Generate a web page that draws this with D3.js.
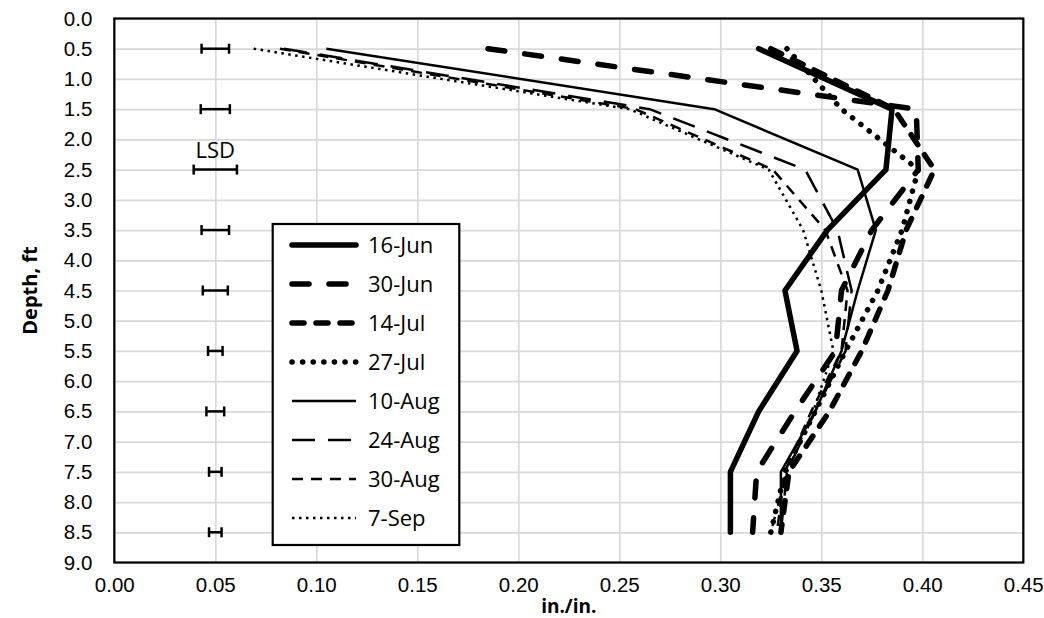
<!DOCTYPE html>
<html>
<head>
<meta charset="utf-8">
<script src="https://cdn.jsdelivr.net/npm/d3@7"></script>
<style>
  body { margin: 0; background: #fff; }
  svg { font-family: "Open Sans", "DejaVu Sans", sans-serif; }
  .tick text { fill: #000; font-size: 20.5px; }
  .grid line { stroke: #d9d9d9; stroke-width: 1.7; }
  .grid .domain { display: none; }
</style>
</head>
<body>
<svg width="1044" height="618"></svg>
<script>
// depths (ft) and soil water content (in./in.) for each sampling date
const depths = [0.5, 1.5, 2.5, 3.5, 4.5, 5.5, 6.5, 7.5, 8.5];
const dates = ["16-Jun", "30-Jun", "14-Jul", "27-Jul", "10-Aug", "24-Aug", "30-Aug", "7-Sep"];
const jun16 = [0.319, 0.385, 0.382, 0.353, 0.332, 0.338, 0.319, 0.305, 0.305];
const jun30 = [0.185, 0.397, 0.398, 0.375, 0.360, 0.357, 0.337, 0.318, 0.316];
const jul14 = [0.325, 0.386, 0.406, 0.392, 0.383, 0.370, 0.354, 0.334, 0.330];
const jul27 = [0.333, 0.360, 0.398, 0.390, 0.378, 0.362, 0.347, 0.332, 0.325];
const aug10 = [0.105, 0.297, 0.368, 0.377, 0.368, 0.360, 0.347, 0.330, 0.330];
const aug24 = [0.084, 0.265, 0.342, 0.358, 0.365, 0.362, 0.347, 0.333, 0.330];
const aug30 = [0.082, 0.258, 0.326, 0.352, 0.363, 0.360, 0.345, 0.332, 0.328];
const sep07 = [0.069, 0.255, 0.324, 0.341, 0.350, 0.356, 0.346, 0.333, 0.325];
// LSD bars: half width at each depth
const lsdCenter = 0.05;
const lsdHalf = [0.0068, 0.0072, 0.0107, 0.0068, 0.0062, 0.0036, 0.0044, 0.0031, 0.0031];

const xTicks = d3.range(0, 0.451, 0.05);
const yTicks = d3.range(0, 9.01, 0.5);

const series = [jun16, jun30, jul14, jul27, aug10, aug24, aug30, sep07];
// line styles, same order as dates
const styles = [
  { w: 5.5, dash: null, cap: "round" },
  { w: 5.5, dash: "17 20", cap: "round" },
  { w: 5.5, dash: "12 12", cap: "round" },
  { w: 5.5, dash: "0.1 10.5", cap: "round" },
  { w: 2.5, dash: null, cap: "butt" },
  { w: 2.5, dash: "23 13", cap: "butt" },
  { w: 2.5, dash: "11 8", cap: "butt" },
  { w: 2.5, dash: "2.5 4.5", cap: "butt" }
];

const svg = d3.select("svg");
const pLeft = 114.3, pRight = 1023.3, pTop = 18.5, pBottom = 562.5;

const x = d3.scaleLinear().domain([0, 0.45]).range([pLeft, pRight]);
const y = d3.scaleLinear().domain([0, 9]).range([pTop, pBottom]);

// gridlines
svg.append("g")
  .attr("class", "grid")
  .attr("transform", `translate(0,${pBottom})`)
  .call(d3.axisBottom(x).tickValues(xTicks).tickSize(-(pBottom - pTop)).tickFormat(""));
svg.append("g")
  .attr("class", "grid")
  .attr("transform", `translate(${pLeft},0)`)
  .call(d3.axisLeft(y).tickValues(yTicks).tickSize(-(pRight - pLeft)).tickFormat(""));

// axes labels
const xAxis = svg.append("g")
  .attr("transform", `translate(0,${pBottom})`)
  .call(d3.axisBottom(x).tickValues(xTicks).tickSize(0).tickPadding(15).tickFormat(d3.format(".2f")));
xAxis.select(".domain").remove();
const yAxis = svg.append("g")
  .attr("transform", `translate(${pLeft},0)`)
  .call(d3.axisLeft(y).tickValues(yTicks).tickSize(0).tickPadding(22).tickFormat(d3.format(".1f")));
yAxis.select(".domain").remove();

// LSD bars
const lsd = svg.append("g").attr("stroke", "#000").attr("stroke-width", 2.5);
depths.forEach((d, i) => {
  const x0 = x(lsdCenter - lsdHalf[i]), x1 = x(lsdCenter + lsdHalf[i]), yy = y(d);
  lsd.append("line").attr("x1", x0).attr("x2", x1).attr("y1", yy).attr("y2", yy);
  lsd.append("line").attr("x1", x0).attr("x2", x0).attr("y1", yy - 5).attr("y2", yy + 5);
  lsd.append("line").attr("x1", x1).attr("x2", x1).attr("y1", yy - 5).attr("y2", yy + 5);
});
svg.append("text")
  .attr("x", x(lsdCenter))
  .attr("y", y(2.5) - 12)
  .attr("text-anchor", "middle")
  .attr("font-size", 22)
  .text("LSD");

// series lines
const line = d3.line().x((d) => x(d[0])).y((d) => y(d[1]));
series.forEach((s, i) => {
  svg.append("path")
    .datum(s.map((v, j) => [v, depths[j]]))
    .attr("fill", "none")
    .attr("stroke", "#000")
    .attr("stroke-width", styles[i].w)
    .attr("stroke-dasharray", styles[i].dash)
    .attr("stroke-linecap", styles[i].cap)
    .attr("stroke-linejoin", "round")
    .attr("d", line);
});

// plot border
svg.append("rect")
  .attr("x", pLeft).attr("y", pTop)
  .attr("width", pRight - pLeft).attr("height", pBottom - pTop)
  .attr("fill", "none").attr("stroke", "#000").attr("stroke-width", 2.2);

// legend
const lg = svg.append("g");
lg.append("rect")
  .attr("x", 272.7).attr("y", 224)
  .attr("width", 186.6).attr("height", 321)
  .attr("fill", "#fff").attr("stroke", "#000").attr("stroke-width", 2.2);
dates.forEach((name, i) => {
  const yy = 245 + i * 39;
  lg.append("line")
    .attr("x1", 292).attr("x2", 356)
    .attr("y1", yy).attr("y2", yy)
    .attr("stroke", "#000")
    .attr("stroke-width", styles[i].w)
    .attr("stroke-dasharray", styles[i].dash)
    .attr("stroke-linecap", styles[i].cap);
  lg.append("text")
    .attr("x", 368).attr("y", yy)
    .attr("dy", "0.35em")
    .attr("font-size", 22)
    .text(name);
});

// axis titles
svg.append("text")
  .attr("x", (pLeft + pRight) / 2)
  .attr("y", 612.5)
  .attr("text-anchor", "middle")
  .attr("font-size", 19)
  .attr("font-weight", "bold")
  .text("in./in.");
svg.append("text")
  .attr("transform", `translate(37,${(pTop + pBottom) / 2}) rotate(-90)`)
  .attr("text-anchor", "middle")
  .attr("font-size", 20)
  .attr("font-weight", "bold")
  .text("Depth, ft");
</script>
</body>
</html>
